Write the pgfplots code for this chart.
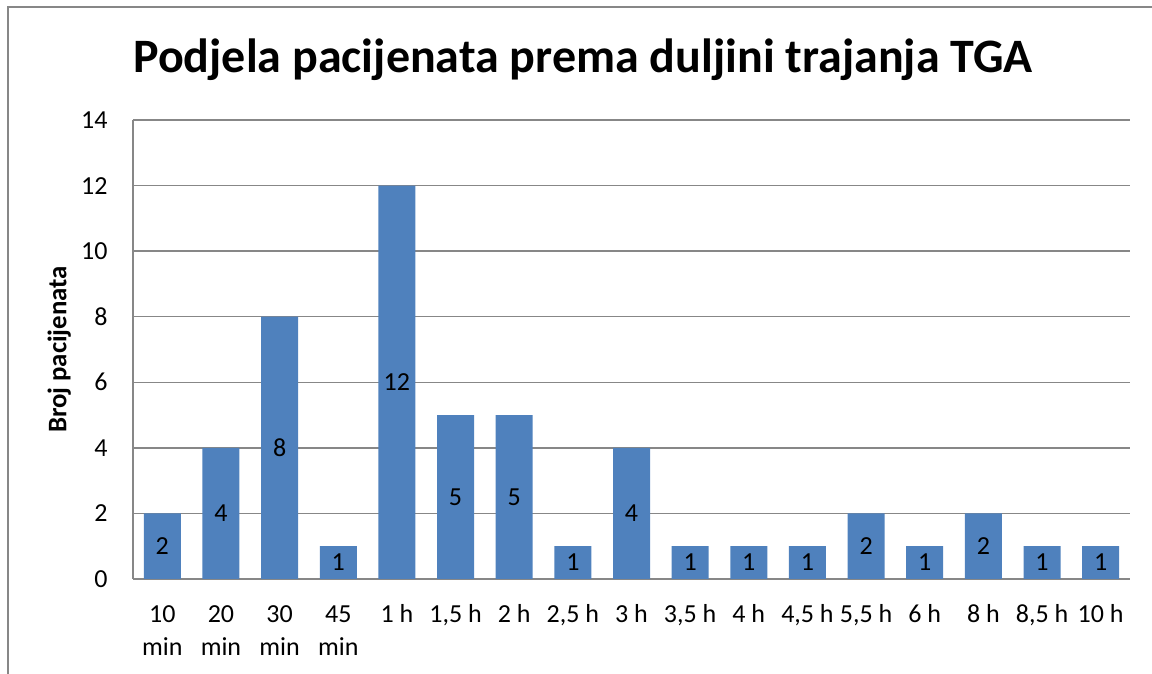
\documentclass[border=0pt]{standalone}
\usepackage{pgfplots}
\pgfplotsset{compat=1.18}
\usepackage{pgfplotstable}
\usepackage{fontspec}
\setmainfont{Carlito}
\definecolor{barblue}{HTML}{4F81BD}
\definecolor{gridgray}{HTML}{878787}
\pgfplotstableread{
x v
0 2
1 4
2 8
3 1
4 12
5 5
6 5
7 1
8 4
9 1
10 1
11 1
12 2
13 1
14 2
15 1
16 1
}\data
\begin{document}
\begin{tikzpicture}[x=1pt,y=1pt]
\path[use as bounding box] (0,0) rectangle (576,337);
\draw[gridgray, line width=0.75pt] (4,0) -- (4,333.5) -- (577,333.5);
\node[font=\fontsize{24}{29}\selectfont\bfseries, anchor=base, inner sep=0pt] at (291.5,300.5) {Podjela pacijenata prema duljini trajanja TGA};
\begin{axis}[
  at={(66.5pt,47.5pt)}, anchor=south west,
  scale only axis, width=498.5pt, height=229.5pt,
  xmin=-0.5, xmax=16.5, ymin=0, ymax=14,
  ytick={0,2,...,14}, xtick={0,...,16},
  xticklabels={{\strut 10\\min},{\strut 20\\min},{\strut 30\\min},{\strut 45\\min},{\strut 1 h},{\strut 1,5 h},{\strut 2 h},{\strut 2,5 h},{\strut 3 h},{\strut 3,5 h},{\strut 4 h},{\strut 4,5 h},{\strut 5,5 h},{\strut 6 h},{\strut 8 h},{\strut 8,5 h},{\strut 10 h}},
  ymajorgrids, major grid style={draw=gridgray, line width=0.75pt},
  axis lines*=left, axis line style={draw=gridgray, line width=0.75pt},
  major tick length=0pt, tick style={draw=none},
  ticklabel style={font=\fontsize{13}{16.5}\selectfont},
  xticklabel style={align=center, anchor=north, inner sep=0pt, yshift=-9.95pt},
  yticklabel style={anchor=east, inner sep=0pt, xshift=-12.5pt},
  ylabel={Broj pacijenata},
  ylabel style={at={(axis description cs:-0.074,0.5)}, anchor=center, font=\fontsize{13.4}{16}\selectfont\bfseries},
  /pgf/number format/assume math mode=true,
  clip=false,
]
\addplot[ybar, bar width=18.5pt, fill=barblue, draw=none] table[x=x, y=v] {\data};
\addplot[draw=none, mark=none, nodes near coords, point meta=explicit,
  every node near coord/.append style={anchor=center, font=\fontsize{13}{15}\selectfont, text=black}]
  table[x=x, y expr=\thisrow{v}/2, meta=v] {\data};
\end{axis}
\end{tikzpicture}
\end{document}
